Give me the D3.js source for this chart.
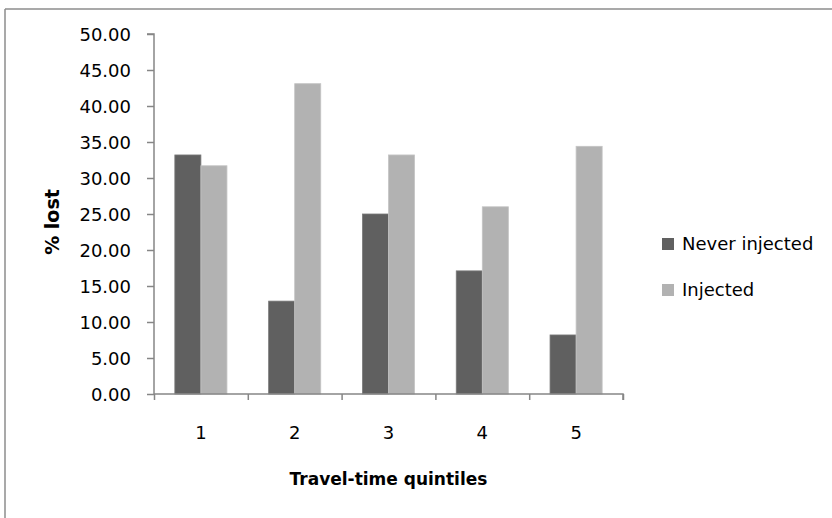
<!DOCTYPE html>
<html>
<head>
<meta charset="utf-8">
<script src="https://cdn.jsdelivr.net/npm/d3@7"></script>
<style>
  html, body { margin: 0; padding: 0; background: #fff; }
  svg { display: block; }
  text { font-family: "DejaVu Sans", sans-serif; fill: #000; }
</style>
</head>
<body>
<svg id="chart" width="832" height="518"></svg>
<script>
const categories = ["1", "2", "3", "4", "5"];
const seriesNames = ["Never injected", "Injected"];
const neverInjected = [33.2, 12.9, 25.0, 17.1, 8.2];
const injected = [31.7, 43.1, 33.2, 26.0, 34.4];
const yTicks = [0, 5, 10, 15, 20, 25, 30, 35, 40, 45, 50];
const colors = ["#606060", "#b2b2b2"];

const svg = d3.select("#chart");
const margin = { left: 154, right: 209, top: 34, bottom: 124 };
const W = 832, H = 518;
const x0 = margin.left, x1 = W - margin.right;
const yTop = margin.top, yBot = H - margin.bottom;

// outer chart border (top and left only visible)
svg.append("line").attr("x1", 5).attr("x2", W).attr("y1", 9).attr("y2", 9)
  .attr("stroke", "#8c8c8c").attr("stroke-width", 1.5);
svg.append("line").attr("x1", 5).attr("x2", 5).attr("y1", 9).attr("y2", H)
  .attr("stroke", "#8c8c8c").attr("stroke-width", 1.5);

const y = d3.scaleLinear().domain([0, 50]).range([yBot, yTop]);
const x = d3.scaleBand().domain(categories).range([x0, x1]).paddingInner(0).paddingOuter(0);
const xs = d3.scaleBand().domain(seriesNames).range([0, x.bandwidth()]).paddingInner(0).paddingOuter(0.8);

const data = categories.map((c, i) => ({ cat: c, vals: [neverInjected[i], injected[i]] }));

// bars
const g = svg.append("g");
data.forEach(d => {
  d.vals.forEach((v, j) => {
    g.append("rect")
      .attr("x", x(d.cat) + xs(seriesNames[j]))
      .attr("y", y(v))
      .attr("width", xs.bandwidth())
      .attr("height", y(0) - y(v))
      .attr("fill", colors[j])
      .attr("stroke", j === 0 ? "#7a7a7a" : "#c4c4c4")
      .attr("stroke-width", 0.8);
  });
});

// y axis
const yAxis = svg.append("g").attr("transform", `translate(${x0},0)`)
  .call(d3.axisLeft(y).tickValues(yTicks).tickSize(7).tickPadding(16).tickFormat(d3.format(".2f")));
yAxis.select(".domain").attr("stroke", "#868686").attr("stroke-width", 1.5).attr("d", `M-7,${yTop}H0V${yBot}`);
yAxis.selectAll(".tick line").attr("stroke", "#868686").attr("stroke-width", 1.5);
yAxis.selectAll("text").style("font-size", "18px").attr("fill", "#000").attr("dy", "0.36em");

// x axis boundary ticks
const xb = d3.scaleLinear().domain([0, categories.length]).range([x0, x1]);
const xAxisB = svg.append("g").attr("transform", `translate(0,${yBot})`)
  .call(d3.axisBottom(xb).ticks(categories.length).tickSize(6).tickFormat(""));
xAxisB.select(".domain").attr("stroke", "#868686").attr("stroke-width", 1.5).attr("d", `M${x0},0H${x1}V6`);
xAxisB.selectAll(".tick line").attr("stroke", "#868686").attr("stroke-width", 1.5);

// x axis labels
const xAxisL = svg.append("g").attr("transform", `translate(0,${yBot})`)
  .call(d3.axisBottom(x).tickSize(0).tickPadding(32));
xAxisL.select(".domain").remove();
xAxisL.selectAll("text").style("font-size", "18px").attr("fill", "#000");

// axis titles
svg.append("text").attr("x", (x0 + x1) / 2).attr("y", 485)
  .attr("text-anchor", "middle").style("font-size", "17px").style("font-weight", "bold")
  .text("Travel-time quintiles");
svg.append("text").attr("transform", `translate(59,222) rotate(-90)`)
  .attr("text-anchor", "middle").style("font-size", "19px").style("font-weight", "bold")
  .text("% lost");

// legend
const leg = svg.append("g").attr("transform", "translate(662,0)");
seriesNames.forEach((s, i) => {
  const cy = 244 + i * 46;
  leg.append("rect").attr("x", 0).attr("y", cy - 6).attr("width", 12).attr("height", 12)
    .attr("fill", colors[i]);
  leg.append("text").attr("x", 20).attr("y", cy).attr("dy", "0.36em")
    .style("font-size", "18px").text(s);
});
</script>
</body>
</html>
